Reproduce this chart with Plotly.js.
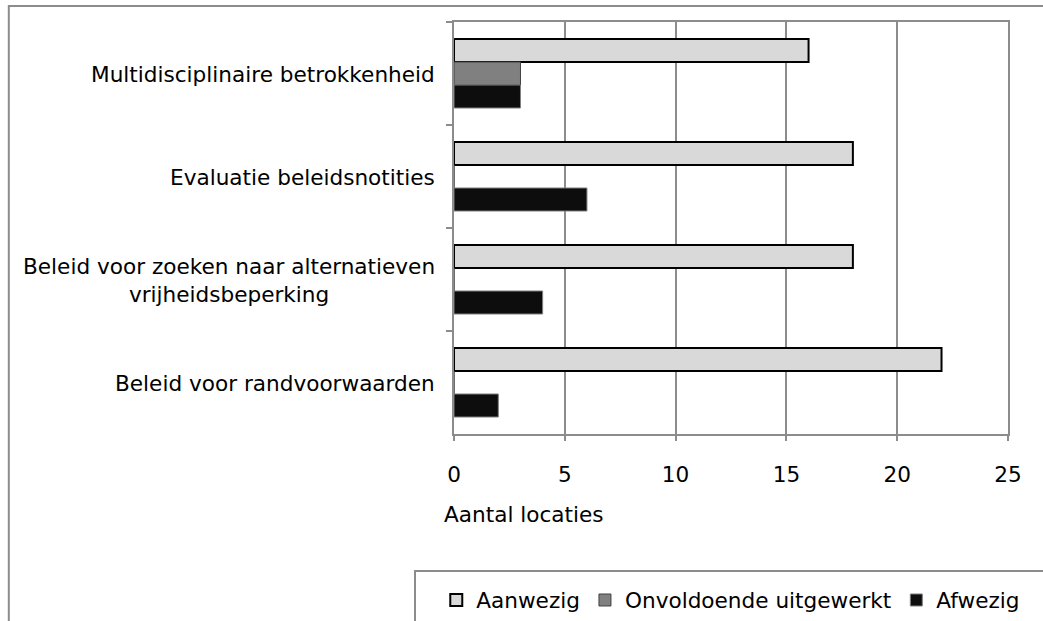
<!DOCTYPE html>
<html>
<head>
<meta charset="utf-8">
<script src="https://cdn.plot.ly/plotly-3.0.1.min.js"></script>
<style>html,body{margin:0;padding:0;background:#fff;}#chart{width:1043px;height:621px;}</style>
</head>
<body>
<div id="chart"></div>
<script>
var categories = [
  "Multidisciplinaire betrokkenheid",
  "Evaluatie beleidsnotities",
  "Beleid voor zoeken naar alternatieven<br>vrijheidsbeperking",
  "Beleid voor randvoorwaarden"
];
var seriesNames = ["Aanwezig", "Onvoldoende uitgewerkt", "Afwezig"];
var aanwezig = [16, 18, 18, 22];
var onvoldoende = [3, 0, 0, 0];
var afwezig = [3, 6, 4, 2];
var xTicks = [0, 5, 10, 15, 20, 25];
var xTitle = "Aantal locaties";

var FONT = "DejaVu Sans, Verdana, sans-serif";
var FS = 21.6;
var GRID = "#8c8c8c";

var traces = [
  {type: "bar", orientation: "h", name: seriesNames[0], y: categories, x: aanwezig,
   marker: {color: "#d9d9d9", line: {color: "#000000", width: 2}}},
  {type: "bar", orientation: "h", name: seriesNames[1], y: categories, x: onvoldoende,
   marker: {color: "#808080", line: {color: "#404040", width: 1}}},
  {type: "bar", orientation: "h", name: seriesNames[2], y: categories, x: afwezig,
   marker: {color: "#0d0d0d", line: {color: "#7f7f7f", width: 1}}}
];

var annotations = categories.map(function (c) {
  return {xref: "paper", yref: "y", x: -0.031, y: c, xanchor: "right", yanchor: "middle",
          text: c, showarrow: false, align: "center", yshift: -1,
          font: {family: FONT, size: FS, color: "#000"}};
});
annotations.push({
  xref: "paper", yref: "paper", x: -0.0216, y: -0.1954, xanchor: "left", yanchor: "middle",
  text: xTitle, showarrow: false, font: {family: FONT, size: FS, color: "#000"}
});

var layout = {
  width: 1043, height: 621,
  margin: {l: 454, r: 35, t: 22, b: 187, pad: 0, autoexpand: false},
  paper_bgcolor: "#fff", plot_bgcolor: "#fff",
  font: {family: FONT, size: FS, color: "#000"},
  barmode: "group", bargap: 0.33, bargroupgap: 0,
  showlegend: true,
  legend: {orientation: "h", x: -0.032, xanchor: "left", y: -0.404, yanchor: "middle",
           font: {family: FONT, size: FS, color: "#000"}, bgcolor: "rgba(0,0,0,0)", borderwidth: 0},
  xaxis: {range: [0, 25], tickvals: xTicks, ticktext: xTicks.map(String),
          showgrid: true, gridcolor: GRID, gridwidth: 2, zeroline: false,
          showline: true, linecolor: GRID, linewidth: 2, mirror: true,
          ticks: "outside", ticklen: 5, tickwidth: 2, tickcolor: GRID,
          ticklabelstandoff: 15, tickfont: {family: FONT, size: FS, color: "#000"},
          fixedrange: true},
  yaxis: {type: "category", autorange: "reversed", showticklabels: false,
          showgrid: false, zeroline: false,
          showline: true, linecolor: GRID, linewidth: 2, mirror: true,
          ticks: "outside", ticklen: 6, tickwidth: 2, tickcolor: GRID, tickson: "boundaries",
          fixedrange: true},
  annotations: annotations,
  shapes: [
    {type: "rect", xref: "paper", yref: "paper", x0: -0.8036, x1: 1.2, y0: -0.7, y1: 1.0388,
     line: {color: GRID, width: 2}, fillcolor: "rgba(0,0,0,0)", layer: "below"},
    {type: "rect", xref: "paper", yref: "paper", x0: -0.0704, x1: 1.2, y0: -0.7, y1: -0.3325,
     line: {color: GRID, width: 2}, fillcolor: "rgba(0,0,0,0)", layer: "below"}
  ]
};

Plotly.newPlot("chart", traces, layout, {displayModeBar: false, staticPlot: true});
</script>
</body>
</html>
